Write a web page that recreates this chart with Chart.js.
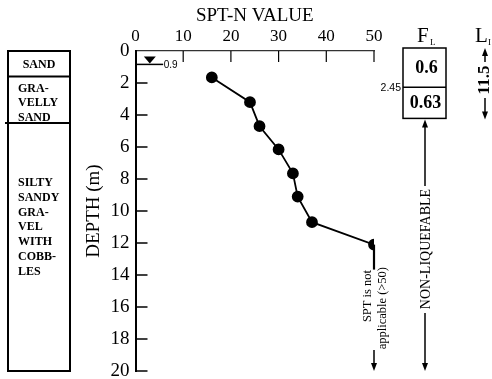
<!DOCTYPE html>
<html>
<head>
<meta charset="utf-8">
<script src="https://cdn.jsdelivr.net/npm/chart.js@4"></script>
<style>
  body { margin: 0; background: #fff; }
</style>
</head>
<body>
<canvas id="c" width="492" height="379"></canvas>
<script>
const sptN = [16, 24, 26, 30, 33, 34, 37, 50];
const depths = [1.65, 3.2, 4.7, 6.15, 7.65, 9.1, 10.7, 12.1];
const nTicks = [0, 10, 20, 30, 40, 50];
const depthTicks = [0, 2, 4, 6, 8, 10, 12, 14, 16, 18, 20];

const soilNames = [["SAND"], ["GRA-", "VELLY", "SAND"], ["SILTY", "SANDY", "GRA-", "VEL", "WITH", "COBB-", "LES"]];
const soilBottoms = [1.6, 4.5, 20];
const waterTable = 0.9;

const flValues = ["0.6", "0.63"];
const flBreaks = [0, 2.45, 4.4];
const liValue = "11.5";

const SERIF = "'Liberation Serif', 'Times New Roman', serif";
const SANS = "'Liberation Sans', Arial, sans-serif";

function arrowHead(ctx, x, y, dir) {
  // dir: 1 = pointing down, -1 = pointing up
  ctx.beginPath();
  ctx.moveTo(x, y);
  ctx.lineTo(x - 3, y - 8 * dir);
  ctx.lineTo(x + 3, y - 8 * dir);
  ctx.closePath();
  ctx.fill();
}

function vline(ctx, x, y1, y2, w) {
  ctx.lineWidth = w || 1.5;
  ctx.beginPath();
  ctx.moveTo(x, y1);
  ctx.lineTo(x, y2);
  ctx.stroke();
}

const extras = {
  id: "extras",
  afterDraw(chart) {
    const { ctx, scales: { x, y } } = chart;
    const top = y.getPixelForValue(0);
    const bottom = y.getPixelForValue(20);
    ctx.save();
    ctx.strokeStyle = "#000";
    ctx.fillStyle = "#000";

    // inside tick marks
    ctx.lineWidth = 1.5;
    depthTicks.forEach((d) => {
      if (d === 0) return;
      const py = y.getPixelForValue(d);
      ctx.beginPath();
      ctx.moveTo(x.left, py);
      ctx.lineTo(x.left + 12, py);
      ctx.stroke();
    });
    ctx.lineWidth = 1.2;
    nTicks.forEach((n) => {
      if (n === 0) return;
      const px = x.getPixelForValue(n);
      ctx.beginPath();
      ctx.moveTo(px, top);
      ctx.lineTo(px, top + 11);
      ctx.stroke();
    });

    // soil column
    const colL = 8, colR = 70;
    ctx.lineWidth = 2;
    ctx.strokeRect(colL, top, colR - colL, bottom - top);
    soilBottoms.forEach((b, i) => {
      if (i === soilBottoms.length - 1) return;
      const py = y.getPixelForValue(b);
      ctx.beginPath();
      ctx.moveTo(i === 1 ? colL - 3 : colL, py);
      ctx.lineTo(colR, py);
      ctx.stroke();
    });
    ctx.font = "bold 12px " + SERIF;
    ctx.textBaseline = "middle";
    soilNames.forEach((lines, i) => {
      const lt = y.getPixelForValue(i === 0 ? 0 : soilBottoms[i - 1]);
      const lb = y.getPixelForValue(soilBottoms[i]);
      if (lines.length === 1) {
        ctx.textAlign = "center";
        ctx.fillText(lines[0], (colL + colR) / 2, (lt + lb) / 2 + 1);
      } else {
        ctx.textAlign = "left";
        const start = i === 1 ? lt + 12 : lt + 60;
        lines.forEach((t, k) => ctx.fillText(t, colL + 10, start + k * 14.8));
      }
    });

    // water table
    const wy = y.getPixelForValue(waterTable);
    const wx = x.getPixelForValue(3);
    ctx.beginPath();
    ctx.moveTo(wx - 6, wy - 9);
    ctx.lineTo(wx + 6, wy - 9);
    ctx.lineTo(wx, wy - 2);
    ctx.closePath();
    ctx.fill();
    ctx.lineWidth = 1.5;
    ctx.beginPath();
    ctx.moveTo(x.left, wy - 1);
    ctx.lineTo(x.getPixelForValue(5.8), wy - 1);
    ctx.stroke();
    ctx.font = "10px " + SANS;
    ctx.textAlign = "left";
    ctx.fillText(String(waterTable), x.getPixelForValue(5.9), wy);

    // SPT not applicable
    const lastX = x.getPixelForValue(sptN[sptN.length - 1]);
    const lastY = y.getPixelForValue(depths[depths.length - 1]);
    vline(ctx, lastX, lastY, lastY + 25, 2.2);
    ctx.save();
    ctx.font = "12.5px " + SERIF;
    ctx.translate(lastX, 0);
    ctx.rotate(-Math.PI / 2);
    ctx.textAlign = "right";
    ctx.textBaseline = "middle";
    ctx.fillText("SPT is not", -270, -6);
    ctx.fillText("applicable (>50)", -267, 9);
    ctx.restore();
    vline(ctx, lastX, 350, bottom - 4, 1.5);
    arrowHead(ctx, lastX, bottom, 1);

    // F_L column
    const flL = 403, flR = 446, flC = (flL + flR) / 2;
    const fTop = y.getPixelForValue(flBreaks[0]) - 3;
    const fMid = y.getPixelForValue(flBreaks[1]) - 3;
    const fBot = y.getPixelForValue(flBreaks[2]) - 3;
    ctx.lineWidth = 1.5;
    ctx.strokeRect(flL, fTop, flR - flL, fBot - fTop);
    ctx.beginPath();
    ctx.moveTo(flL, fMid);
    ctx.lineTo(flR, fMid);
    ctx.stroke();
    ctx.font = "bold 18px " + SERIF;
    ctx.textAlign = "center";
    ctx.textBaseline = "middle";
    ctx.fillText(flValues[0], flC + 2, (fTop + fMid) / 2 + 1);
    ctx.fillText(flValues[1], flC + 1, (fMid + fBot) / 2 + 1);
    ctx.font = "10.5px " + SANS;
    ctx.textAlign = "right";
    ctx.fillText(String(flBreaks[1]), flL - 2, fMid + 1);
    ctx.font = "21px " + SERIF;
    ctx.textAlign = "left";
    ctx.fillText("F", 417, 36);
    ctx.font = "9px " + SERIF;
    ctx.fillText("L", 430, 43);

    // non-liquefable
    const nx = 425;
    vline(ctx, nx, fBot + 6, 186, 1.5);
    arrowHead(ctx, nx, fBot + 1, -1);
    ctx.save();
    ctx.font = "14px " + SERIF;
    ctx.translate(nx + 1, 249);
    ctx.rotate(-Math.PI / 2);
    ctx.textAlign = "center";
    ctx.textBaseline = "middle";
    ctx.fillText("NON-LIQUEFABLE", 0, 0);
    ctx.restore();
    vline(ctx, nx, 313, bottom - 4, 1.5);
    arrowHead(ctx, nx, bottom, 1);

    // L_I column
    const lx = 485;
    ctx.font = "21px " + SERIF;
    ctx.textAlign = "left";
    ctx.fillText("L", 475, 36);
    ctx.font = "9px " + SERIF;
    ctx.fillText("I", 488, 43);
    vline(ctx, lx, fTop + 6, 62, 1.5);
    arrowHead(ctx, lx, fTop, -1);
    ctx.save();
    ctx.font = "bold 17px " + SERIF;
    ctx.translate(lx, 80);
    ctx.rotate(-Math.PI / 2);
    ctx.textAlign = "center";
    ctx.textBaseline = "middle";
    ctx.fillText(liValue, 0, 0);
    ctx.restore();
    vline(ctx, lx, 98, fBot - 4, 1.5);
    arrowHead(ctx, lx, fBot + 1, 1);

    ctx.restore();
  },
};

new Chart(document.getElementById("c"), {
  type: "scatter",
  data: {
    datasets: [{
      data: sptN.map((n, i) => ({ x: n, y: depths[i] })),
      showLine: true,
      borderColor: "#000",
      borderWidth: 1.8,
      pointRadius: 5,
      pointBackgroundColor: "#000",
      pointBorderColor: "#000",
    }],
  },
  options: {
    responsive: false,
    animation: false,
    layout: { padding: { left: 78, right: 118, top: 0, bottom: 8 } },
    plugins: { legend: { display: false }, tooltip: { enabled: false } },
    scales: {
      x: {
        type: "linear",
        position: "top",
        min: 0,
        max: 50,
        afterFit: (s) => { s.height = 51; s.paddingLeft = 0; s.paddingRight = 0; },
        afterBuildTicks: (s) => { s.ticks = nTicks.map((v) => ({ value: v })); },
        grid: { display: false, drawTicks: false },
        border: { display: true, color: "#333", width: 1.2 },
        ticks: { color: "#000", padding: 4, font: { family: SERIF, size: 17 } },
        title: { display: true, text: "SPT-N VALUE", color: "#000", padding: { top: 5 }, font: { family: SERIF, size: 19 } },
      },
      y: {
        type: "linear",
        reverse: true,
        min: 0,
        max: 20,
        afterFit: (s) => { s.width = 57.5; s.paddingTop = 0; s.paddingBottom = 0; },
        afterBuildTicks: (s) => { s.ticks = depthTicks.map((v) => ({ value: v })); },
        grid: { display: false, drawTicks: false },
        border: { display: true, color: "#000", width: 2 },
        ticks: { color: "#000", padding: 6, font: { family: SERIF, size: 19 } },
        title: { display: true, text: "DEPTH (m)", color: "#000", padding: { top: 5 }, font: { family: SERIF, size: 19 } },
      },
    },
  },
  plugins: [extras],
});
</script>
</body>
</html>
